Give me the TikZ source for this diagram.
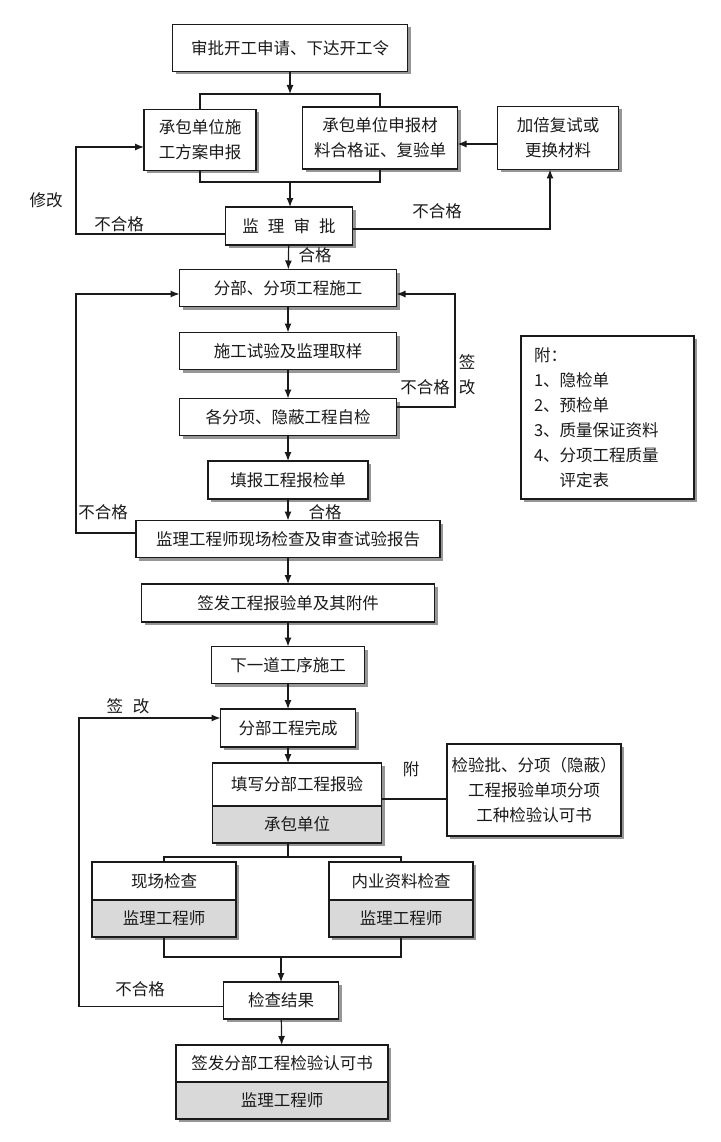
\documentclass[tikz,border=0pt]{standalone}
\usepackage{fontspec}
\setmainfont{Noto Sans CJK SC}
\usetikzlibrary{positioning,shadows,arrows.meta}
\definecolor{cd9d9d9}{RGB}{217,217,217}
\definecolor{c969696}{RGB}{150,150,150}
\definecolor{c1a1a1a}{RGB}{26,26,26}

\begin{document}
\begin{tikzpicture}[y=-1pt,x=1pt, inner sep=0pt, outer sep=0pt,
  box/.style={draw=c1a1a1a,line width=1.2pt,fill=white,text=c1a1a1a,align=center,
    drop shadow={shadow xshift=3pt,shadow yshift=-3pt,fill=c969696,opacity=1},
    font=\fontsize{16.5pt}{25pt}\selectfont},
  greybox/.style={box,fill=cd9d9d9},
  lbl/.style={font=\fontsize{16.5pt}{25pt}\selectfont,text=c1a1a1a},
  link/.style={draw=c1a1a1a,line width=1.2pt},
  arr/.style={link,-{Latex[length=9pt,width=7pt]}}]
  \useasboundingbox[fill=white] (0,0) rectangle (720,1142);

  \node[box,minimum width=235pt,minimum height=47pt] (apply) at (290,48)
    {审批开工申请、下达开工令};
  \node[box,minimum width=112pt,minimum height=61pt] (plan) at (200,140)
    {承包单位施\\工方案申报};
  \node[box,minimum width=155pt,minimum height=62pt] (material) at (380,138)
    {承包单位申报材\\料合格证、复验单};
  \node[box,minimum width=121pt,minimum height=63pt] (retest) at (558,138)
    {加倍复试或\\更换材料};
  \node[box,minimum width=127pt,minimum height=38pt] (approve) at (289,226)
    {监\hspace{0.55em}理\hspace{0.55em}审\hspace{0.55em}批};
  \node[box,minimum width=217pt,minimum height=37pt] (construct) at (288,288)
    {分部、分项工程施工};
  \node[box,minimum width=217pt,minimum height=37pt] (sample) at (288,351)
    {施工试验及监理取样};
  \node[box,minimum width=217pt,minimum height=37pt] (selfcheck) at (288,417)
    {各分项、隐蔽工程自检};
  \node[box,minimum width=160pt,minimum height=38pt] (report) at (288,480)
    {填报工程报检单};
  \node[box,minimum width=304pt,minimum height=37pt] (inspect) at (288,539)
    {监理工程师现场检查及审查试验报告};
  \node[box,minimum width=293pt,minimum height=38pt] (issue) at (288,603)
    {签发工程报验单及其附件};
  \node[box,minimum width=153pt,minimum height=37pt] (next) at (288,665)
    {下一道工序施工};
  \node[box,minimum width=135pt,minimum height=38pt] (finish) at (288,728)
    {分部工程完成};
  \node[box,minimum width=169pt,minimum height=43pt] (form) at (297,784.5)
    {填写分部工程报验};
  \node[greybox,minimum width=169pt,minimum height=37pt,below=0pt of form]
    (contractor) {承包单位};
  \node[box,minimum width=174pt,minimum height=92pt] (attach) at (534,790)
    {检验批、分项（隐蔽）\\工程报验单项分项\\工种检验认可书};
  \node[box,minimum width=144pt,minimum height=38pt] (site) at (164,881)
    {现场检查};
  \node[greybox,minimum width=144pt,minimum height=37pt,below=0pt of site]
    (siteeng) {监理工程师};
  \node[box,minimum width=144pt,minimum height=38pt] (docs) at (401,881)
    {内业资料检查};
  \node[greybox,minimum width=144pt,minimum height=37pt,below=0pt of docs]
    (docseng) {监理工程师};
  \node[box,minimum width=115pt,minimum height=37pt] (result) at (281,1000.5)
    {检查结果};
  \node[box,minimum width=212pt,minimum height=37pt] (cert) at (282,1063.5)
    {签发分部工程检验认可书};
  \node[greybox,minimum width=212pt,minimum height=37pt,below=0pt of cert]
    (certeng) {监理工程师};
  \node[box,minimum width=173pt,minimum height=163pt,text width=147pt,align=left]
    (note) at (607.5,417.5)
    {附：\\1、隐检单\\2、预检单\\3、质量保证资料\\4、分项工程质量\\\phantom{4、}评定表};

  \coordinate (forkA) at (290,94);
  \coordinate (joinA) at (290,182);
  \draw[arr] (apply) -- (forkA);
  \draw[link] (plan.north) |- (forkA) -| (material.north);
  \draw[link] (plan.south) |- (joinA) -| (material.south);
  \draw[arr] (joinA) -- (joinA |- approve.north);
  \draw[arr] ([yshift=-6pt]retest.west) -- ([yshift=-6pt]material.east);
  \coordinate (loopA) at (76,190);
  \draw[arr] ([yshift=-8pt]approve.west) -| (loopA) |- ([yshift=-7pt]plan.west);
  \draw[arr] ([yshift=-3pt]approve.east) -| ([xshift=-8pt]retest.south);
  \draw[arr] (approve) -- (construct);
  \draw[arr] (construct) -- (sample);
  \draw[arr] (sample) -- (selfcheck);
  \draw[arr] (selfcheck) -- (report);
  \draw[arr] (report) -- (inspect);
  \coordinate (loopB) at (455,350);
  \draw[arr] ([yshift=10pt]selfcheck.east) -| (loopB) |- ([yshift=-6pt]construct.east);
  \coordinate (loopC) at (76,400);
  \draw[arr] ([yshift=6pt]inspect.west) -| (loopC) |- ([yshift=-6pt]construct.west);
  \draw[arr] (inspect) -- (issue);
  \draw[arr] (issue) -- (next);
  \draw[arr] (next) -- (finish);
  \draw[arr] (finish) -- (finish |- form.north);
  \draw[link] ([yshift=7pt]form.south east) -- ([yshift=-9pt]attach.west);
  \coordinate (forkB) at (288,857);
  \coordinate (joinB) at (281,957);
  \draw[link] (contractor.south -| finish) -- (forkB);
  \draw[link] (site.north) |- (forkB) -| (docs.north);
  \draw[link] (siteeng.south) |- (joinB) -| (docseng.south);
  \draw[arr] (joinB) -- (result);
  \draw[arr] (result) -- (cert);
  \coordinate (loopD) at (79,860);
  \draw[arr] ([yshift=-6pt]result.west) -| (loopD) |- ([yshift=10pt]finish.west);

  \node[lbl] (modify) at (46,200) {修改};
  \node[lbl] (failA) at (119,224) {不合格};
  \node[lbl] (failB) at (437,211) {不合格};
  \node[lbl] (passA) at (315,255) {合格};
  \node[lbl] (failC) at (425,387) {不合格};
  \node[lbl] (signA) at (467,362) {签};
  \node[lbl] (signB) at (467,387) {改};
  \node[lbl] (failD) at (103,512) {不合格};
  \node[lbl] (passB) at (325,512) {合格};
  \node[lbl] (signC) at (128,706) {签\hspace{0.6em}改};
  \node[lbl] (annex) at (411,769) {附};
  \node[lbl] (failE) at (140,989) {不合格};
\end{tikzpicture}
\end{document}
